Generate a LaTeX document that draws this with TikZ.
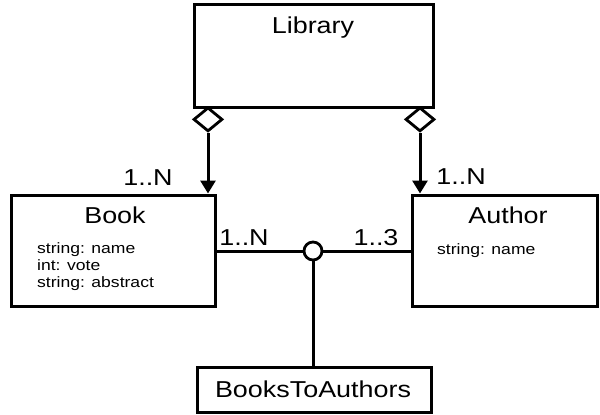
\documentclass[tikz,border=0pt]{standalone}
\usepackage{fontspec}
\setmainfont[FakeStretch=1.17]{Liberation Sans}
\usetikzlibrary{arrows.meta,shapes.geometric}
\tikzset{
  box/.style={draw, line width=3pt, inner sep=0pt, fill=white},
  conn/.style={line width=3pt},
  title/.style={inner sep=0pt, anchor=base, font=\fontsize{23}{23}\selectfont},
  attr/.style={inner sep=0pt, anchor=base west, font=\fontsize{15}{17}\selectfont},
  mult/.style={inner sep=0pt, anchor=base, font=\fontsize{23}{23}\selectfont},
  agg/.style={draw, diamond, line width=2.8pt, fill=white, minimum width=29pt, minimum height=24pt, inner sep=0pt, anchor=north},
  arr/.style={conn, -{Triangle[width=15pt,length=13pt]}}
}
\begin{document}
\begin{tikzpicture}[x=1pt,y=-1pt]
\useasboundingbox (0,0) rectangle (600,415);
% boxes
\node[box, minimum width=239pt, minimum height=103pt] (lib) at (313.5,55.5) {};
\node[box, minimum width=204pt, minimum height=111pt] (book) at (113,250.5) {};
\node[box, minimum width=185pt, minimum height=111pt] (author) at (504.5,250.5) {};
\node[box, minimum width=234pt, minimum height=45pt] (bta) at (314,389.5) {};
% titles
\node[title] (libt) at (313,33) {Library};
\node[title] (bookt) at (115,223) {Book};
\node[title] (autht) at (508,223) {Author};
\node[title] (btat) at (313,397) {BooksToAuthors};
% attributes
\node[attr] (ba1) at (37,253) {string: name};
\node[attr] (ba2) at (37,270) {int: vote};
\node[attr] (ba3) at (37,287) {string: abstract};
\node[attr] (aa1) at (437,254) {string: name};
% aggregation diamonds
\node[agg] (d1) at (208,106) {};
\node[agg] (d2) at (420,106) {};
\draw[arr] (d1.south) -- (d1.south |- book.north);
\draw[arr] (d2.south) -- (d2.south |- author.north);
% association junction
\node[draw, circle, line width=2.8pt, fill=white, minimum size=18pt, inner sep=0pt] (junc) at (313,251) {};
\draw[conn] (book.east |- junc) -- (junc.west);
\draw[conn] (junc.east) -- (author.west |- junc);
\draw[conn] (junc.south) -- (junc.south |- bta.north);
% multiplicities
\node[mult] (m1) at (148,185) {1..N};
\node[mult] (m2) at (461,184) {1..N};
\node[mult] (m3) at (244,245) {1..N};
\node[mult] (m4) at (376,245) {1..3};
\end{tikzpicture}
\end{document}
